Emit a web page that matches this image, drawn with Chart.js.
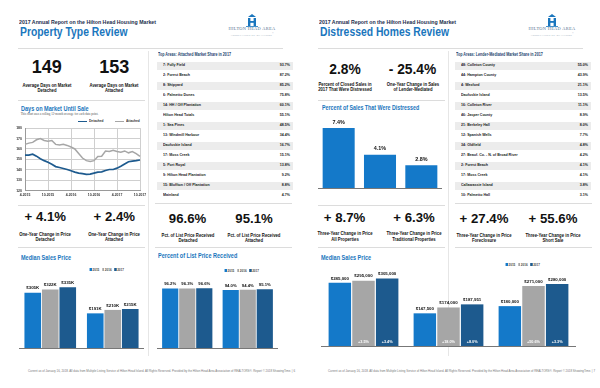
<!DOCTYPE html>
<html>
<head>
<meta charset="utf-8">
<script src="https://cdn.jsdelivr.net/npm/chart.js@4.4.1/dist/chart.umd.min.js"></script>
<style>
html, body { margin: 0; padding: 0; background: #fff; }
#page { position: relative; width: 600px; height: 388px; overflow: hidden; font-family: "Liberation Sans", Arial, sans-serif; color: #111; }
.abs { position: absolute; white-space: nowrap; line-height: 1; }
.hr { position: absolute; height: 1px; background: #dcdcdc; }
.vr { position: absolute; width: 1px; background: #e6e6e6; }
canvas { position: absolute; }
.band { position: absolute; height: 8px; background: #ececec; }
.sw { display: inline-block; width: 2.5px; height: 2.5px; margin: 0 1px 0 3px; vertical-align: 0; }
</style>
</head>
<body>
<div id="page"></div>
<script>
// ---- data ----
const dayMonths = ['4-2015','5-2015','6-2015','7-2015','8-2015','9-2015','10-2015','11-2015','12-2015',
  '1-2016','2-2016','3-2016','4-2016','5-2016','6-2016','7-2016','8-2016','9-2016','10-2016','11-2016','12-2016',
  '1-2017','2-2017','3-2017','4-2017','5-2017','6-2017','7-2017','8-2017','9-2017','10-2017'];
const detachedDays = [154.1,154.1,155,153.1,150.6,148.8,147.2,145.3,143.1,142.2,141.3,140.3,139.1,137.8,136.9,136.3,
  135.6,135.9,136.9,137.8,138.1,139.4,140.3,140.3,141.6,143.4,145.6,147.8,148.4,148.8,149.4];
const attachedDays = [164.4,165.6,166.3,168.8,170,168.1,167.5,168.1,164.4,163.8,164.4,163.4,161.9,160,155.6,151.3,
  148.8,148.1,148.8,152.8,153.1,158.1,157.5,158.8,157.5,156.9,158.1,156.3,157.5,155.6,152.9];

const years = ['2015', '2016', '2017'];
const propTypes = ['Detached', 'Attached'];
const medianK2015 = [305, 191];
const medianK2016 = [322, 210];
const medianK2017 = [335, 215];
const listPct2015 = [96.2, 94.0];
const listPct2016 = [96.3, 94.4];
const listPct2017 = [96.6, 95.1];

const distressPct = [7.4, 4.1, 2.8];

const saleTypes = ['Traditional', 'Foreclosure', 'Short Sale'];
const saleMedian2015 = [285000, 147500, 180000];
const saleMedian2016 = [295000, 174000, 271000];
const saleMedian2017 = [305000, 187951, 280000];
const saleChange2016 = ['+3.5%', '+18.0%', '+50.6%'];
const saleChange2017 = ['+3.4%', '+8.0%', '+3.3%'];

const attachedAreas = ['7: Folly Field','2: Forest Beach','8: Shipyard','6: Palmetto Dunes','14: HH / Off Plantation',
  'Hilton Head Totals','1: Sea Pines','13: Windmill Harbour','Daufuskie Island','17: Moss Creek','5: Port Royal',
  '9: Hilton Head Plantation','15: Bluffton / Off Plantation','Mainland'];
const attachedShare = ['93.7%','87.2%','85.2%','75.8%','60.1%','55.1%','48.5%','34.4%','16.7%','15.1%','13.8%','9.2%','8.8%','4.7%'];
const lenderAreas = ['48: Colleton County','44: Hampton County','4: Wexford','Daufuskie Island','16: Colleton River',
  '46: Jasper County','21: Berkeley Hall','12: Spanish Wells','34: Oldfield','27: Beauf. Co. - N. of Broad River',
  '2: Forest Beach','17: Moss Creek','Callawassie Island','10: Palmetto Hall'];
const lenderShare = ['55.0%','43.9%','21.1%','13.5%','11.1%','8.9%','8.0%','7.7%','4.8%','4.2%','4.1%','4.1%','3.8%','3.1%'];

const BLUE = '#1479c9', GRAY = '#a6a6a6', NAVY = '#1d5a8e', TITLE = '#1a76bd';

// ---- layout helpers ----
const page = document.getElementById('page');
// o.sx squeezes the text horizontally (the report uses a condensed face)
function text(s, x, base, size, o) {
  o = o || {};
  const d = document.createElement('div');
  d.className = 'abs';
  const fam = o.serif ? '"Liberation Serif",serif' : '"Liberation Sans",Arial';
  const sx = o.sx || 1;
  let css = `left:${x}px;top:${base - 0.85 * size}px;font-size:${size}px;font-family:${fam};` +
    `font-weight:${o.bold === false ? 'normal' : 'bold'};color:${o.color || '#111'};`;
  if (o.align === 'center') css += `transform:translateX(-50%) scaleX(${sx});text-align:center;`;
  else if (o.align === 'right') css += `transform-origin:right center;transform:translateX(-100%) scaleX(${sx});text-align:right;`;
  else css += `transform-origin:left center;transform:scaleX(${sx});`;
  if (o.ls) css += `letter-spacing:${o.ls}px;`;
  d.style.cssText = css;
  d.innerHTML = s;
  page.appendChild(d);
  return d;
}
function box(cls, x, y, w, h) {
  const d = document.createElement('div');
  d.className = cls;
  d.style.cssText = `left:${x}px;top:${y}px;` + (w != null ? `width:${w}px;` : '') + (h != null ? `height:${h}px;` : '');
  page.appendChild(d);
  return d;
}
function canvas(x, y, w, h) {
  const c = document.createElement('canvas');
  c.width = w; c.height = h;
  c.style.cssText = `left:${x}px;top:${y}px;width:${w}px;height:${h}px;`;
  page.appendChild(c);
  return c;
}
function legend(x, base) {
  text(`<span class="sw" style="background:${BLUE}"></span>2015<span class="sw" style="background:${GRAY}"></span>2016<span class="sw" style="background:${NAVY}"></span>2017`,
    x, base, 3.6, { sx: 0.85, color: '#444' });
}
function logo(x) {
  const d = document.createElement('div');
  d.className = 'abs';
  d.style.cssText = `left:${x + 20}px;top:14px;`;
  d.innerHTML = `<svg width="14" height="13" viewBox="0 0 14 13"><path d="M7 0 L11 3 L3 3 Z" fill="${TITLE}"/>` +
    `<rect x="3" y="4" width="2.4" height="8" fill="${TITLE}"/><rect x="8.6" y="4" width="2.4" height="8" fill="${TITLE}"/>` +
    `<rect x="3" y="7" width="8" height="1.8" fill="${TITLE}"/><rect x="1" y="12" width="12" height="0.8" fill="${TITLE}"/></svg>`;
  page.appendChild(d);
  text('HILTON HEAD AREA', x + 27, 30.8, 4.4, { serif: true, bold: false, color: '#51708f', align: 'center', ls: 0.3 });
  text('ASSOCIATION OF REALTORS<sup style="font-size:2px">®</sup>', x + 27, 34.2, 2.6, { serif: true, bold: false, color: '#7d93aa', align: 'center', ls: 0.3 });
}
function table(x, title, areas, vals) {
  text(title, x + 1, 56.7, 4.6, { sx: 0.8, color: '#1d3f6e' });
  areas.forEach((a, i) => {
    if (i % 2 === 0) box('band', x, 61.5 + i * 10, 135.5, 8);
    text(a, x + 5.5, 67 + i * 10, 4.4, { sx: 0.82, color: '#1a1a1a' });
    text(vals[i], x + 133, 67 + i * 10, 4.4, { sx: 0.82, color: '#1a1a1a', align: 'right' });
  });
}
function stat(v, cx, base, size) { text(v, cx, base, size, { align: 'center' }); }
function cap(l1, l2, cx, base) {
  text(l1, cx, base, 4.6, { sx: 0.92, align: 'center' });
  text(l2, cx, base + 5.2, 4.6, { sx: 0.92, align: 'center' });
}
const SEC = 0.79;

// ---- page furniture ----
[0, 300].forEach((ox, p) => {
  text('2017 Annual Report on the Hilton Head Housing Market', 19 + ox, 24, 6, { sx: 0.87, color: '#1c2d4c' });
  text(p === 0 ? 'Property Type Review' : 'Distressed Homes Review', 19.5 + ox, 37, 12.8, { sx: 0.81, color: TITLE });
  logo(225 + ox);
  box('hr', 18 + ox, 47.5, 265);
  box('vr', 147.5 + ox, 51, null, 305);
  box('hr', 18 + ox, 100, 127);
  box('hr', 18 + ox, 205, 127);
  box('hr', 18 + ox, 247, 127);
  box('hr', 155 + ox, 203, 137);
  box('hr', 155 + ox, 247, 137);
  text('Current as of January 16, 2018. All data from Multiple Listing Service of Hilton Head Island. All Rights Reserved. Provided by the Hilton Head Area Association of REALTORS®. Report © 2018 ShowingTime. | ' + (6 + p),
    28 + ox, 372, 2.9, { bold: false, color: '#777' });
});

// left page
stat('149', 46.7, 73.3, 18); stat('153', 114.2, 73.3, 18);
cap('Average Days on Market', 'Detached', 46.7, 87.8);
cap('Average Days on Market', 'Attached', 114.2, 87.8);
text('Days on Market Until Sale', 20.5, 110.5, 7, { sx: SEC, color: TITLE });
text('This chart uses a rolling 12-month average for each data point.', 20.7, 115.5, 3.1, { serif: true, bold: false, color: '#555' });
box('hr', 77.5, 121.3, 9.5).style.cssText += `background:${NAVY};height:1.2px;`;
text('Detached', 88.5, 123, 3.8, { sx: 0.85, color: '#333' });
box('hr', 115, 121.3, 9).style.cssText += `background:${GRAY};height:1.2px;`;
text('Attached', 125.5, 123, 3.8, { sx: 0.85, color: '#333' });
stat('+ 4.1%', 45.3, 221.7, 13.2); stat('+ 2.4%', 114.3, 221.7, 13.2);
cap('One-Year Change in Price', 'Detached', 45.3, 236.8);
cap('One-Year Change in Price', 'Attached', 114.3, 236.8);
text('Median Sales Price', 20.5, 260, 7, { sx: SEC, color: TITLE });
legend(87, 271.3);
table(157, 'Top Areas: Attached Market Share in 2017', attachedAreas, attachedShare);
stat('96.6%', 187.5, 223, 13.2); stat('95.1%', 254, 223, 13.2);
cap('Pct. of List Price Received', 'Detached', 187.5, 237.5);
cap('Pct. of List Price Received', 'Attached', 254, 237.5);
text('Percent of List Price Received', 158.3, 258, 7, { sx: SEC, color: TITLE });
legend(222, 272.5);

// right page
stat('2.8%', 345, 75, 13.8); stat('- 25.4%', 412.5, 75, 13.8);
cap('Percent of Closed Sales in', '2017 That Were Distressed', 345, 86.8);
cap('One-Year Change in Sales', 'of Lender-Mediated', 412.5, 86.8);
text('Percent of Sales That Were Distressed', 321.5, 110, 7, { sx: 0.76, color: TITLE });
stat('+ 8.7%', 344.5, 222.5, 13.2); stat('+ 6.3%', 414, 222.5, 13.2);
cap('Three-Year Change in Price', 'All Properties', 344.5, 236.3);
cap('Three-Year Change in Price', 'Traditional Properties', 414, 236.3);
table(455, 'Top Areas: Lender-Mediated Market Share in 2017', lenderAreas, lenderShare);
stat('+ 27.4%', 484, 223, 13.2); stat('+ 55.6%', 553, 223, 13.2);
cap('Three-Year Change in Price', 'Foreclosure', 484, 237.5);
cap('Three-Year Change in Price', 'Short Sale', 553, 237.5);
text('Median Sales Price', 321, 259.5, 7, { sx: SEC, color: TITLE });
legend(503, 266.5);

// ---- charts ----
Chart.defaults.font.family = '"Liberation Sans",Arial';
Chart.defaults.color = '#222';

const barLabels = {
  id: 'barLabels',
  afterDatasetsDraw(chart, args, opts) {
    const ctx = chart.ctx;
    ctx.save();
    ctx.textAlign = 'center';
    ctx.textBaseline = 'bottom';
    chart.data.datasets.forEach((ds, i) => {
      chart.getDatasetMeta(i).data.forEach((bar, j) => {
        if (ds.topLabels) {
          ctx.font = opts.font;
          ctx.fillStyle = '#111';
          ctx.fillText(ds.topLabels[j], bar.x, bar.y - opts.gap);
        }
        if (ds.innerLabels && ds.innerLabels[j]) {
          ctx.font = opts.innerFont;
          ctx.fillStyle = '#fff';
          ctx.fillText(ds.innerLabels[j], bar.x, bar.base - 2.5);
        }
      });
    });
    ctx.restore();
  }
};

function barOptions(yMax, padTop, axisH, tickSize, labelFont, gap) {
  return {
    responsive: false, animation: false, devicePixelRatio: 1,
    layout: { padding: { top: padTop, left: 0, right: 0, bottom: 0 } },
    plugins: { legend: { display: false }, tooltip: { enabled: false },
      barLabels: { font: labelFont, innerFont: 'bold 3.8px "Liberation Sans"', gap: gap } },
    scales: {
      x: { grid: { display: false }, border: { color: '#777' },
        ticks: { font: { size: tickSize, weight: 'bold' }, color: '#222', padding: 2 },
        afterFit: s => { s.height = axisH; } },
      y: { display: false, min: 0, max: yMax }
    }
  };
}
function ds(data, color, cat, barP, extra) {
  return Object.assign({ data: data, backgroundColor: color, borderWidth: 0,
    categoryPercentage: cat, barPercentage: barP }, extra || {});
}

// Days on market line chart
new Chart(canvas(8, 123, 142, 77), {
  type: 'line',
  data: { labels: dayMonths, datasets: [
    { label: 'Detached', data: detachedDays, borderColor: NAVY, borderWidth: 1.7, pointRadius: 0 },
    { label: 'Attached', data: attachedDays, borderColor: GRAY, borderWidth: 1.5, pointRadius: 0 }
  ] },
  options: {
    responsive: false, animation: false, devicePixelRatio: 1,
    layout: { padding: { top: 3.7, right: 10, left: 0, bottom: 0 } },
    plugins: { legend: { display: false }, tooltip: { enabled: false } },
    scales: {
      x: { grid: { color: c => (c.index % 6 === 0 ? '#cfcfcf' : 'transparent'), drawTicks: false },
        border: { color: '#9a9a9a' },
        ticks: { autoSkip: false, maxRotation: 0, padding: 2, font: { size: 3.4, weight: 'bold' }, color: '#333',
          callback: (v, i) => (i % 6 === 0 ? dayMonths[i] : '') },
        afterFit: s => { s.height = 9.3; } },
      y: { min: 120, max: 180, grid: { color: '#cfcfcf', drawTicks: false }, border: { color: '#9a9a9a' },
        ticks: { stepSize: 10, padding: 3, font: { size: 3.5, weight: 'bold' }, color: '#333' },
        afterFit: s => { s.width = 17; } }
    }
  }
});

// Median sales price by property type
const fmtK = v => '$' + v + 'K';
new Chart(canvas(19, 268, 125, 90), {
  type: 'bar',
  data: { labels: propTypes, datasets: [
    ds(medianK2015, BLUE, 0.84, 0.95, { topLabels: medianK2015.map(fmtK) }),
    ds(medianK2016, GRAY, 0.84, 0.95, { topLabels: medianK2016.map(fmtK) }),
    ds(medianK2017, NAVY, 0.84, 0.95, { topLabels: medianK2017.map(fmtK) })
  ] },
  options: barOptions(397, 8, 10, 4.9, 'bold 4.4px "Liberation Sans"', 2.2),
  plugins: [barLabels]
});

// Percent of list price received
const fmtPct = v => v.toFixed(1) + '%';
new Chart(canvas(156.5, 268, 121, 90), {
  type: 'bar',
  data: { labels: propTypes, datasets: [
    ds(listPct2015, BLUE, 0.845, 0.95, { topLabels: listPct2015.map(fmtPct) }),
    ds(listPct2016, GRAY, 0.845, 0.95, { topLabels: listPct2016.map(fmtPct) }),
    ds(listPct2017, NAVY, 0.845, 0.95, { topLabels: listPct2017.map(fmtPct) })
  ] },
  options: barOptions(116.5, 8, 10, 4.9, 'bold 4.2px "Liberation Sans"', 2.2),
  plugins: [barLabels]
});

// Percent of sales that were distressed
new Chart(canvas(318, 112, 124, 85), {
  type: 'bar',
  data: { labels: years, datasets: [
    ds(distressPct, BLUE, 0.775, 1, { topLabels: distressPct.map(fmtPct) })
  ] },
  options: barOptions(8.39, 8, 9, 4.4, 'bold 5.4px "Liberation Sans"', 3.2),
  plugins: [barLabels]
});

// Median sales price by sale type
const fmtUSD = v => '$' + v.toLocaleString('en-US');
new Chart(canvas(321, 268, 255, 88), {
  type: 'bar',
  data: { labels: saleTypes, datasets: [
    ds(saleMedian2015, BLUE, 0.835, 0.95, { topLabels: saleMedian2015.map(fmtUSD) }),
    ds(saleMedian2016, GRAY, 0.835, 0.95, { topLabels: saleMedian2016.map(fmtUSD), innerLabels: saleChange2016 }),
    ds(saleMedian2017, NAVY, 0.835, 0.95, { topLabels: saleMedian2017.map(fmtUSD), innerLabels: saleChange2017 })
  ] },
  options: barOptions(316000, 8, 10, 4.9, 'bold 4.4px "Liberation Sans"', 2.2),
  plugins: [barLabels]
});
</script>
</body>
</html>
